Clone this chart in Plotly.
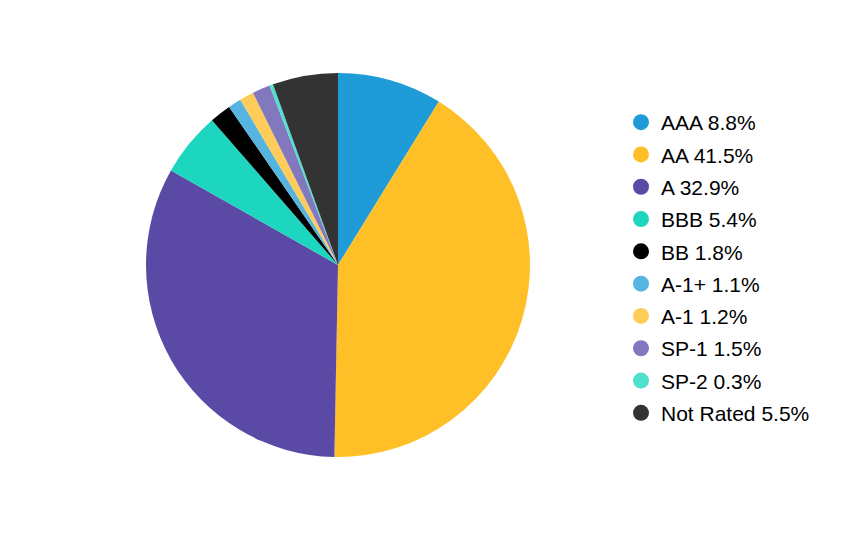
import plotly.graph_objects as go

categories = ["AAA", "AA", "A", "BBB", "BB", "A-1+", "A-1", "SP-1", "SP-2", "Not Rated"]
values = [8.8, 41.5, 32.9, 5.4, 1.8, 1.1, 1.2, 1.5, 0.3, 5.5]
colors = ["#1f9bd7", "#ffbf27", "#5a4aa5", "#1dd6bf", "#000000",
          "#55b5e0", "#ffcc5a", "#8278bd", "#4fe0cf", "#333333"]

W, H = 852, 540
cx, cy, r = 338, 265, 192

fig = go.Figure()
fig.add_trace(go.Pie(
    labels=categories, values=values, sort=False, direction="clockwise",
    rotation=0, marker=dict(colors=colors, line=dict(width=0)),
    textinfo="none", hoverinfo="label+percent", showlegend=False,
    domain=dict(x=[(cx - r) / W, (cx + r) / W],
                y=[(H - cy - r) / H, (H - cy + r) / H]),
))
for i, (c, v, col) in enumerate(zip(categories, values, colors)):
    fig.add_trace(go.Scatter(
        x=[None], y=[None], mode="markers", name=f"{c} {v}%",
        legendgroup=f"g{i}",
        marker=dict(symbol="circle", size=18, color=col),
    ))

fig.update_layout(
    width=W, height=H, margin=dict(l=0, r=0, t=0, b=0),
    paper_bgcolor="white", plot_bgcolor="white",
    font=dict(family="Arial, Liberation Sans, sans-serif", size=21, color="#000000"),
    xaxis=dict(visible=False), yaxis=dict(visible=False),
    legend=dict(x=621 / W, y=1 - 102 / H, xanchor="left", yanchor="top",
                tracegroupgap=2, itemsizing="trace",
                font=dict(size=21)),
)
fig.write_html("out.html")
